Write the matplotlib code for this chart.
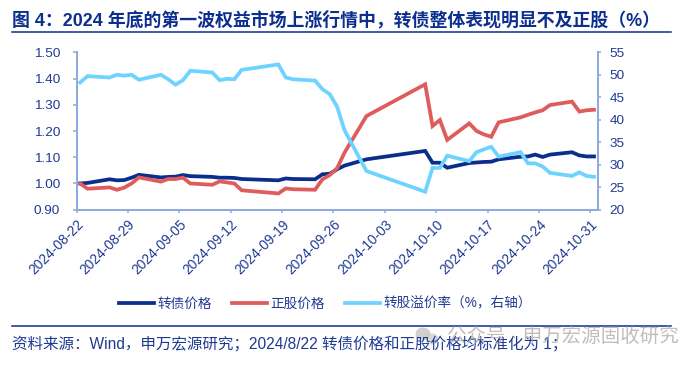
import matplotlib
matplotlib.use('Agg')
import matplotlib.pyplot as plt
import pandas as pd
from matplotlib.patches import Ellipse

plt.rcParams['font.family'] = ['Liberation Sans', 'Noto Sans CJK SC']

#Data
dates = ['2024-08-22', '2024-08-23', '2024-08-26', '2024-08-27', '2024-08-28', '2024-08-29', '2024-08-30',
         '2024-09-02', '2024-09-03', '2024-09-04', '2024-09-05', '2024-09-06', '2024-09-09', '2024-09-10',
         '2024-09-11', '2024-09-12', '2024-09-13', '2024-09-18', '2024-09-19', '2024-09-20', '2024-09-23',
         '2024-09-24', '2024-09-25', '2024-09-26', '2024-09-27', '2024-09-30', '2024-10-08', '2024-10-09',
         '2024-10-10', '2024-10-11', '2024-10-14', '2024-10-15', '2024-10-16', '2024-10-17', '2024-10-18',
         '2024-10-21', '2024-10-22', '2024-10-23', '2024-10-24', '2024-10-25', '2024-10-28', '2024-10-29',
         '2024-10-30', '2024-10-31']
bond = [1.000, 1.002, 1.016, 1.012, 1.013, 1.022, 1.033, 1.023, 1.025, 1.026, 1.032, 1.028, 1.025, 1.022,
        1.022, 1.021, 1.017, 1.012, 1.019, 1.017, 1.016, 1.035, 1.037, 1.054, 1.068, 1.092, 1.124, 1.079,
        1.079, 1.060, 1.078, 1.080, 1.082, 1.083, 1.092, 1.102, 1.103, 1.110, 1.101, 1.110, 1.119, 1.107,
        1.103, 1.103]
stock = [1.000, 0.980, 0.985, 0.976, 0.984, 1.000, 1.023, 1.007, 1.017, 1.017, 1.022, 1.000, 0.995, 1.008,
         1.004, 1.000, 0.974, 0.962, 0.981, 0.978, 0.976, 1.016, 1.032, 1.058, 1.117, 1.257, 1.378, 1.219,
         1.242, 1.166, 1.229, 1.200, 1.187, 1.178, 1.233, 1.252, 1.262, 1.271, 1.279, 1.299, 1.312, 1.274,
         1.279, 1.281]
premium = [48.3, 49.7, 49.4, 50.0, 49.8, 50.0, 48.9, 50.0, 49.0, 47.8, 48.8, 50.9, 50.5, 48.8,
           49.1, 49.0, 51.1, 52.3, 49.4, 49.0, 48.7, 46.8, 45.7, 42.9, 37.7, 28.6, 24.0, 29.3,
           29.3, 32.0, 30.8, 32.8, 33.4, 34.0, 31.8, 32.8, 30.3, 30.3, 29.6, 28.2, 27.5, 28.3,
           27.5, 27.3]
date_ticks = ['2024-08-22', '2024-08-29', '2024-09-05', '2024-09-12', '2024-09-19', '2024-09-26',
              '2024-10-03', '2024-10-10', '2024-10-17', '2024-10-24', '2024-10-31']
left_ticks = [0.90, 1.00, 1.10, 1.20, 1.30, 1.40, 1.50]
right_ticks = [20, 25, 30, 35, 40, 45, 50, 55]

title = '图 4：2024 年底的第一波权益市场上涨行情中，转债整体表现明显不及正股（%）'
source = '资料来源：Wind，申万宏源研究；2024/8/22 转债价格和正股价格均标准化为 1；'
watermark = '公众号 · 申万宏源固收研究'

#Colours
text_col = '#1F3A93'
title_col = '#0B2E8F'
axis_col = '#8FAADC'
navy = '#0B2E8C'
red = '#DF5C5C'
cyan = '#6FD3FF'

W, H = 700, 365
fig = plt.figure(figsize=(W/100, H/100), dpi=100)

x = pd.to_datetime(dates)
half_day = pd.Timedelta(hours=12)
ticks = pd.to_datetime(date_ticks) - half_day

ax1 = fig.add_axes([76.5/W, 1-209.7/H, (597.7-76.5)/W, (209.7-52.3)/H])
ax2 = ax1.twinx()

l1, = ax1.plot(x, bond, color=navy, lw=2.7, solid_joinstyle='miter', zorder=2)
l2, = ax1.plot(x, stock, color=red, lw=2.7, solid_joinstyle='miter', zorder=3)
l3, = ax2.plot(x, premium, color=cyan, lw=2.7, solid_joinstyle='miter')

ax1.set_xlim(x[0]-half_day, x[-1]+half_day)
ax1.set_ylim(0.90, 1.50)
ax2.set_ylim(20, 55)
ax1.set_yticks(left_ticks)
ax1.set_yticklabels(['%.2f' % v for v in left_ticks])
ax2.set_yticks(right_ticks)
ax1.set_xticks(ticks)
ax1.set_xticklabels(date_ticks, rotation=45, ha='right', rotation_mode='anchor')

for ax in (ax1, ax2):
    ax.spines['top'].set_visible(False)
    for s in ('left', 'right', 'bottom'):
        ax.spines[s].set_color(axis_col)
        ax.spines[s].set_linewidth(1.3)
ax1.tick_params(axis='y', colors=text_col, labelsize=9.7, length=3, width=1.1, color=axis_col, pad=8.7)
ax2.tick_params(axis='y', colors=text_col, labelsize=9.7, length=2.5, width=1.1, color=axis_col, pad=6)
ax1.tick_params(axis='x', colors=text_col, labelsize=9.9, length=2.5, width=1.1, color=axis_col, pad=3)

fig.legend([l1, l2, l3], ['转债价格', '正股价格', '转股溢价率（%，右轴）'], ncol=3, frameon=False,
           loc='center left', bbox_to_anchor=(119/W, 1-303.5/H), fontsize=9.8, labelcolor=text_col,
           handlelength=2.6, handletextpad=0.2, columnspacing=1.5, borderpad=0, borderaxespad=0)

#Title, rules, source
fig.text(12/W, 1-20/H, title, color=title_col, fontsize=12.9, weight='bold', va='center', ha='left')
fig.add_artist(plt.Line2D([12/W, 671/W], [1-32/H, 1-32/H], color=title_col, lw=1.1))
fig.add_artist(plt.Line2D([12/W, 671/W], [1-326/H, 1-326/H], color=title_col, lw=1.1))
fig.text(12/W, 1-344/H, source, color=text_col, fontsize=11.2, va='center', ha='left')

#Watermark
fig.add_artist(Ellipse((423/W, 1-334/H), 15/W, 13/H, color='#BDBDBD', alpha=0.7, lw=0))
fig.add_artist(Ellipse((432/W, 1-339/H), 13/W, 11/H, color='#C8C8C8', alpha=0.7, lw=0))
fig.text(447/W, 1-337/H, watermark, color='#A8A8A8', alpha=0.75, fontsize=14, va='center', ha='left')

fig.savefig('out.png', dpi=100)
